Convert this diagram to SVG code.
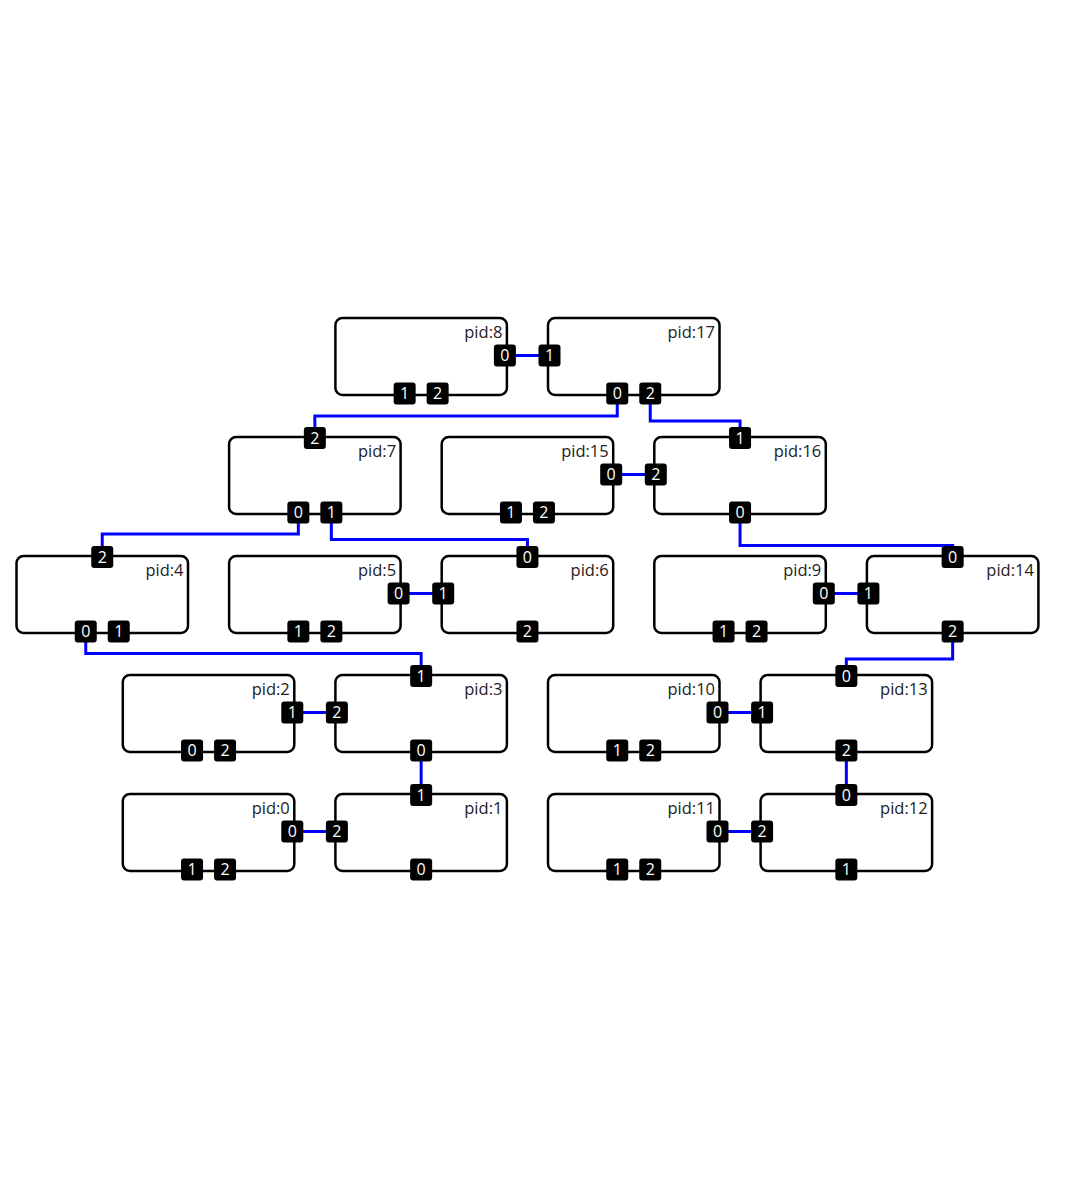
<svg xmlns="http://www.w3.org/2000/svg" width="1065" height="1200" viewBox="0 0 1065 1200">
<style>
.box{fill:#fff;stroke:#000;stroke-width:2.5}
.lbl{font-family:"Open Sans","Liberation Sans",sans-serif;font-size:16.5px;fill:#222;text-anchor:end}
.pr{fill:#000}
.pt{font-family:"Open Sans","Liberation Sans",sans-serif;font-size:16px;fill:#fff;text-anchor:middle}
.wire{fill:none;stroke:#0000ff;stroke-width:3}
</style>
<rect width="1065" height="1200" fill="#fff"/>
<g id="connectors">
<path class="wire" d="M504.9,355.5H549.5"/>
<path class="wire" d="M617.25,393.5V416H314.85V438"/>
<path class="wire" d="M650.25,393.5V421H740.05V438"/>
<path class="wire" d="M611.2,474.5H655.8"/>
<path class="wire" d="M298.35,512.5V534H102.25V557"/>
<path class="wire" d="M331.35,512.5V539.5H527.45V557"/>
<path class="wire" d="M740.05,512.5V545.5H952.65V557"/>
<path class="wire" d="M398.6,593.5H443.2"/>
<path class="wire" d="M823.8,593.5H868.4"/>
<path class="wire" d="M85.75,631.5V653.5H421.15V676"/>
<path class="wire" d="M952.65,631.5V659H846.35V676"/>
<path class="wire" d="M292.3,712.5H336.9"/>
<path class="wire" d="M717.5,712.5H762.1"/>
<path class="wire" d="M421.15,750.5V795"/>
<path class="wire" d="M846.35,750.5V795"/>
<path class="wire" d="M292.3,831.5H336.9"/>
<path class="wire" d="M717.5,831.5H762.1"/>
</g>

<g id="pid8" transform="translate(335.4,318)">
<rect class="box" width="171.5" height="77" rx="7"/>
<text class="lbl" x="167" y="20">pid:8</text>
<rect class="pr" x="158.5" y="26.5" width="22" height="22" rx="3"/><text class="pt" x="169.5" y="43.3">0</text>
<rect class="pr" x="58.25" y="64.5" width="22" height="22" rx="3"/><text class="pt" x="69.25" y="81.3">1</text>
<rect class="pr" x="91.25" y="64.5" width="22" height="22" rx="3"/><text class="pt" x="102.25" y="81.3">2</text>
</g>

<g id="pid17" transform="translate(548,318)">
<rect class="box" width="171.5" height="77" rx="7"/>
<text class="lbl" x="167" y="20">pid:17</text>
<rect class="pr" x="-9.5" y="26.5" width="22" height="22" rx="3"/><text class="pt" x="1.5" y="43.3">1</text>
<rect class="pr" x="58.25" y="64.5" width="22" height="22" rx="3"/><text class="pt" x="69.25" y="81.3">0</text>
<rect class="pr" x="91.25" y="64.5" width="22" height="22" rx="3"/><text class="pt" x="102.25" y="81.3">2</text>
</g>

<g id="pid7" transform="translate(229.1,437)">
<rect class="box" width="171.5" height="77" rx="7"/>
<text class="lbl" x="167" y="20">pid:7</text>
<rect class="pr" x="74.75" y="-10" width="22" height="22" rx="3"/><text class="pt" x="85.75" y="6.8">2</text>
<rect class="pr" x="58.25" y="64.5" width="22" height="22" rx="3"/><text class="pt" x="69.25" y="81.3">0</text>
<rect class="pr" x="91.25" y="64.5" width="22" height="22" rx="3"/><text class="pt" x="102.25" y="81.3">1</text>
</g>

<g id="pid15" transform="translate(441.7,437)">
<rect class="box" width="171.5" height="77" rx="7"/>
<text class="lbl" x="167" y="20">pid:15</text>
<rect class="pr" x="158.5" y="26.5" width="22" height="22" rx="3"/><text class="pt" x="169.5" y="43.3">0</text>
<rect class="pr" x="58.25" y="64.5" width="22" height="22" rx="3"/><text class="pt" x="69.25" y="81.3">1</text>
<rect class="pr" x="91.25" y="64.5" width="22" height="22" rx="3"/><text class="pt" x="102.25" y="81.3">2</text>
</g>

<g id="pid16" transform="translate(654.3,437)">
<rect class="box" width="171.5" height="77" rx="7"/>
<text class="lbl" x="167" y="20">pid:16</text>
<rect class="pr" x="-9.5" y="26.5" width="22" height="22" rx="3"/><text class="pt" x="1.5" y="43.3">2</text>
<rect class="pr" x="74.75" y="-10" width="22" height="22" rx="3"/><text class="pt" x="85.75" y="6.8">1</text>
<rect class="pr" x="74.75" y="64.5" width="22" height="22" rx="3"/><text class="pt" x="85.75" y="81.3">0</text>
</g>

<g id="pid4" transform="translate(16.5,556)">
<rect class="box" width="171.5" height="77" rx="7"/>
<text class="lbl" x="167" y="20">pid:4</text>
<rect class="pr" x="74.75" y="-10" width="22" height="22" rx="3"/><text class="pt" x="85.75" y="6.8">2</text>
<rect class="pr" x="58.25" y="64.5" width="22" height="22" rx="3"/><text class="pt" x="69.25" y="81.3">0</text>
<rect class="pr" x="91.25" y="64.5" width="22" height="22" rx="3"/><text class="pt" x="102.25" y="81.3">1</text>
</g>

<g id="pid5" transform="translate(229.1,556)">
<rect class="box" width="171.5" height="77" rx="7"/>
<text class="lbl" x="167" y="20">pid:5</text>
<rect class="pr" x="158.5" y="26.5" width="22" height="22" rx="3"/><text class="pt" x="169.5" y="43.3">0</text>
<rect class="pr" x="58.25" y="64.5" width="22" height="22" rx="3"/><text class="pt" x="69.25" y="81.3">1</text>
<rect class="pr" x="91.25" y="64.5" width="22" height="22" rx="3"/><text class="pt" x="102.25" y="81.3">2</text>
</g>

<g id="pid6" transform="translate(441.7,556)">
<rect class="box" width="171.5" height="77" rx="7"/>
<text class="lbl" x="167" y="20">pid:6</text>
<rect class="pr" x="-9.5" y="26.5" width="22" height="22" rx="3"/><text class="pt" x="1.5" y="43.3">1</text>
<rect class="pr" x="74.75" y="-10" width="22" height="22" rx="3"/><text class="pt" x="85.75" y="6.8">0</text>
<rect class="pr" x="74.75" y="64.5" width="22" height="22" rx="3"/><text class="pt" x="85.75" y="81.3">2</text>
</g>

<g id="pid9" transform="translate(654.3,556)">
<rect class="box" width="171.5" height="77" rx="7"/>
<text class="lbl" x="167" y="20">pid:9</text>
<rect class="pr" x="158.5" y="26.5" width="22" height="22" rx="3"/><text class="pt" x="169.5" y="43.3">0</text>
<rect class="pr" x="58.25" y="64.5" width="22" height="22" rx="3"/><text class="pt" x="69.25" y="81.3">1</text>
<rect class="pr" x="91.25" y="64.5" width="22" height="22" rx="3"/><text class="pt" x="102.25" y="81.3">2</text>
</g>

<g id="pid14" transform="translate(866.9,556)">
<rect class="box" width="171.5" height="77" rx="7"/>
<text class="lbl" x="167" y="20">pid:14</text>
<rect class="pr" x="-9.5" y="26.5" width="22" height="22" rx="3"/><text class="pt" x="1.5" y="43.3">1</text>
<rect class="pr" x="74.75" y="-10" width="22" height="22" rx="3"/><text class="pt" x="85.75" y="6.8">0</text>
<rect class="pr" x="74.75" y="64.5" width="22" height="22" rx="3"/><text class="pt" x="85.75" y="81.3">2</text>
</g>

<g id="pid2" transform="translate(122.8,675)">
<rect class="box" width="171.5" height="77" rx="7"/>
<text class="lbl" x="167" y="20">pid:2</text>
<rect class="pr" x="158.5" y="26.5" width="22" height="22" rx="3"/><text class="pt" x="169.5" y="43.3">1</text>
<rect class="pr" x="58.25" y="64.5" width="22" height="22" rx="3"/><text class="pt" x="69.25" y="81.3">0</text>
<rect class="pr" x="91.25" y="64.5" width="22" height="22" rx="3"/><text class="pt" x="102.25" y="81.3">2</text>
</g>

<g id="pid3" transform="translate(335.4,675)">
<rect class="box" width="171.5" height="77" rx="7"/>
<text class="lbl" x="167" y="20">pid:3</text>
<rect class="pr" x="-9.5" y="26.5" width="22" height="22" rx="3"/><text class="pt" x="1.5" y="43.3">2</text>
<rect class="pr" x="74.75" y="-10" width="22" height="22" rx="3"/><text class="pt" x="85.75" y="6.8">1</text>
<rect class="pr" x="74.75" y="64.5" width="22" height="22" rx="3"/><text class="pt" x="85.75" y="81.3">0</text>
</g>

<g id="pid10" transform="translate(548,675)">
<rect class="box" width="171.5" height="77" rx="7"/>
<text class="lbl" x="167" y="20">pid:10</text>
<rect class="pr" x="158.5" y="26.5" width="22" height="22" rx="3"/><text class="pt" x="169.5" y="43.3">0</text>
<rect class="pr" x="58.25" y="64.5" width="22" height="22" rx="3"/><text class="pt" x="69.25" y="81.3">1</text>
<rect class="pr" x="91.25" y="64.5" width="22" height="22" rx="3"/><text class="pt" x="102.25" y="81.3">2</text>
</g>

<g id="pid13" transform="translate(760.6,675)">
<rect class="box" width="171.5" height="77" rx="7"/>
<text class="lbl" x="167" y="20">pid:13</text>
<rect class="pr" x="-9.5" y="26.5" width="22" height="22" rx="3"/><text class="pt" x="1.5" y="43.3">1</text>
<rect class="pr" x="74.75" y="-10" width="22" height="22" rx="3"/><text class="pt" x="85.75" y="6.8">0</text>
<rect class="pr" x="74.75" y="64.5" width="22" height="22" rx="3"/><text class="pt" x="85.75" y="81.3">2</text>
</g>

<g id="pid0" transform="translate(122.8,794)">
<rect class="box" width="171.5" height="77" rx="7"/>
<text class="lbl" x="167" y="20">pid:0</text>
<rect class="pr" x="158.5" y="26.5" width="22" height="22" rx="3"/><text class="pt" x="169.5" y="43.3">0</text>
<rect class="pr" x="58.25" y="64.5" width="22" height="22" rx="3"/><text class="pt" x="69.25" y="81.3">1</text>
<rect class="pr" x="91.25" y="64.5" width="22" height="22" rx="3"/><text class="pt" x="102.25" y="81.3">2</text>
</g>

<g id="pid1" transform="translate(335.4,794)">
<rect class="box" width="171.5" height="77" rx="7"/>
<text class="lbl" x="167" y="20">pid:1</text>
<rect class="pr" x="-9.5" y="26.5" width="22" height="22" rx="3"/><text class="pt" x="1.5" y="43.3">2</text>
<rect class="pr" x="74.75" y="-10" width="22" height="22" rx="3"/><text class="pt" x="85.75" y="6.8">1</text>
<rect class="pr" x="74.75" y="64.5" width="22" height="22" rx="3"/><text class="pt" x="85.75" y="81.3">0</text>
</g>

<g id="pid11" transform="translate(548,794)">
<rect class="box" width="171.5" height="77" rx="7"/>
<text class="lbl" x="167" y="20">pid:11</text>
<rect class="pr" x="158.5" y="26.5" width="22" height="22" rx="3"/><text class="pt" x="169.5" y="43.3">0</text>
<rect class="pr" x="58.25" y="64.5" width="22" height="22" rx="3"/><text class="pt" x="69.25" y="81.3">1</text>
<rect class="pr" x="91.25" y="64.5" width="22" height="22" rx="3"/><text class="pt" x="102.25" y="81.3">2</text>
</g>

<g id="pid12" transform="translate(760.6,794)">
<rect class="box" width="171.5" height="77" rx="7"/>
<text class="lbl" x="167" y="20">pid:12</text>
<rect class="pr" x="-9.5" y="26.5" width="22" height="22" rx="3"/><text class="pt" x="1.5" y="43.3">2</text>
<rect class="pr" x="74.75" y="-10" width="22" height="22" rx="3"/><text class="pt" x="85.75" y="6.8">0</text>
<rect class="pr" x="74.75" y="64.5" width="22" height="22" rx="3"/><text class="pt" x="85.75" y="81.3">1</text>
</g>
</svg>
